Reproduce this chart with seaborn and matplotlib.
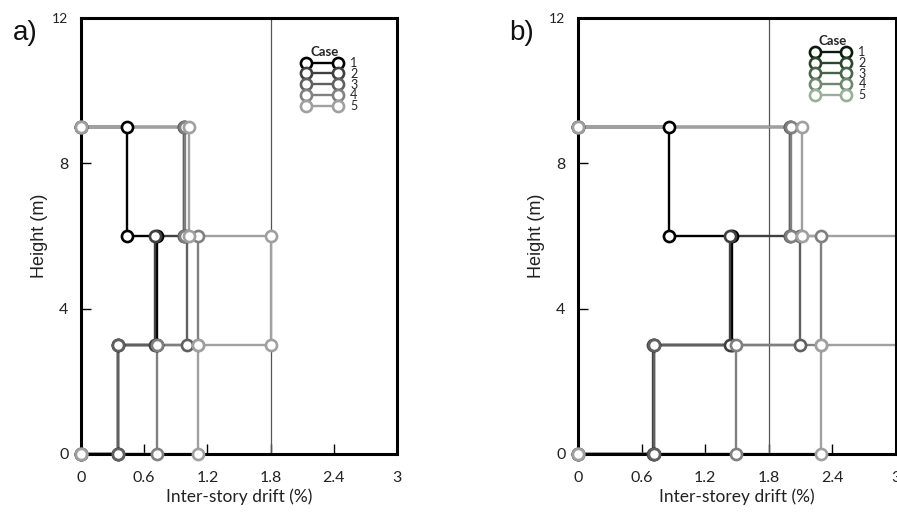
import matplotlib
matplotlib.use("Agg")
import matplotlib.pyplot as plt
import seaborn as sns
import pandas as pd
from matplotlib.lines import Line2D

sns.set_theme(style="white")
plt.rcParams["font.family"] = ["Lato", "DejaVu Sans"]

# Story drifts (%) for stories 1..3, per load case
cases = [1, 2, 3, 4, 5]
floor_levels = [0, 3, 6, 9]

drift_a_case1 = [0.35, 0.72, 0.44]
drift_a_case2 = [0.35, 0.70, 0.98]
drift_a_case3 = [0.35, 1.01, 0.98]
drift_a_case4 = [0.72, 1.11, 0.99]
drift_a_case5 = [1.11, 1.80, 1.03]

drift_b_case1 = [0.72, 1.45, 0.86]
drift_b_case2 = [0.71, 1.43, 2.00]
drift_b_case3 = [0.72, 2.09, 2.00]
drift_b_case4 = [1.49, 2.29, 2.01]
drift_b_case5 = [2.29, 3.62, 2.11]

drift_limit = 1.8
x_ticks = [0, 0.6, 1.2, 1.8, 2.4, 3]
y_ticks = [0, 4, 8, 12]

line_colors = ["#000000", "#404040", "#606060", "#808080", "#a0a0a0"]
legend_colors_b = ["#0b1a0b", "#2c452c", "#4a614a", "#6f876f", "#9aae9a"]


def step_profile(case, drifts):
    """Drift profile drawn as a staircase over the building height."""
    pts = [(0.0, floor_levels[0])]
    for i, d in enumerate(drifts):
        pts.append((d, floor_levels[i]))
        pts.append((d, floor_levels[i + 1]))
    pts.append((0.0, floor_levels[-1]))
    return pd.DataFrame({"case": case,
                         "drift": [p[0] for p in pts],
                         "height": [p[1] for p in pts]})


panel_a = pd.concat([step_profile(c, d) for c, d in zip(cases, [
    drift_a_case1, drift_a_case2, drift_a_case3, drift_a_case4, drift_a_case5])])
panel_b = pd.concat([step_profile(c, d) for c, d in zip(cases, [
    drift_b_case1, drift_b_case2, drift_b_case3, drift_b_case4, drift_b_case5])])

fig = plt.figure(figsize=(8.97, 5.12), dpi=100)
ax_a = fig.add_axes([0.0903, 0.1133, 0.3523, 0.8516])
ax_b = fig.add_axes([0.6444, 0.1133, 0.3545, 0.8516])

LW = 1.7
marker_kw = dict(marker="o", markersize=8, markeredgewidth=1.9,
                 markerfacecolor="white")


def draw_panel(ax, data, tag, xlabel, leg_colors, leg_anchor):
    ax.axvline(drift_limit, color="#555555", linewidth=0.9, zorder=1)
    # staircase lines sit under the frame, open markers on top of it
    sns.lineplot(data=data, x="drift", y="height", hue="case",
                 palette=line_colors, sort=False, estimator=None,
                 legend=False, ax=ax, linewidth=LW, zorder=2)
    n_before = len(ax.lines)
    sns.lineplot(data=data, x="drift", y="height", hue="case",
                 palette=line_colors, sort=False, estimator=None,
                 legend=False, ax=ax, linestyle="none", clip_on=False,
                 zorder=3, **marker_kw)
    for ln in ax.lines[n_before:]:
        ln.set_markeredgecolor(ln.get_color())

    ax.set_xlim(0, 3)
    ax.set_ylim(0, 12)
    ax.set_xticks(x_ticks)
    ax.set_xticklabels([f"{t:g}" for t in x_ticks])
    ax.set_yticks(y_ticks)
    ax.tick_params(axis="both", direction="in", length=7, width=1,
                   color="black", labelsize=11.5, labelcolor="#222222",
                   bottom=True, left=True)
    ax.tick_params(axis="x", pad=12)
    ax.tick_params(axis="y", pad=9)
    ax.get_yticklabels()[-1].set_fontsize(10)
    for sp in ax.spines.values():
        sp.set_color("black")
        sp.set_linewidth(2.2)
        sp.set_zorder(2.5)

    ax.set_xlabel(xlabel, fontsize=12.5, color="#222222", labelpad=3)
    ax.set_ylabel("Height (m)", fontsize=13, color="#222222",
                  family="Liberation Sans", labelpad=3)
    ax.text(-0.177, 0.965, tag, transform=ax.transAxes, fontsize=20,
            family="Liberation Sans", color="#111111", ha="center", va="center")

    handles = [Line2D([], [], color=c, markeredgecolor=c, linewidth=LW,
                      **marker_kw) for c in leg_colors]
    leg = ax.legend(handles, [str(c) for c in cases], title="Case",
                    numpoints=2, frameon=False, loc="upper right",
                    bbox_to_anchor=leg_anchor, borderaxespad=0, borderpad=0,
                    fontsize=9, handlelength=3.1, handletextpad=0.7,
                    labelspacing=-0.1, alignment="left",
                    title_fontproperties={"weight": "bold", "size": 9.5})
    leg.get_title().set_x(8)
    leg.set_zorder(5)


draw_panel(ax_a, panel_a, "a)", "Inter-story drift (%)", line_colors, (0.875, 0.935))
draw_panel(ax_b, panel_b, "b)", "Inter-storey drift (%)", legend_colors_b, (0.905, 0.96))

fig.savefig("out.png", dpi=100)
